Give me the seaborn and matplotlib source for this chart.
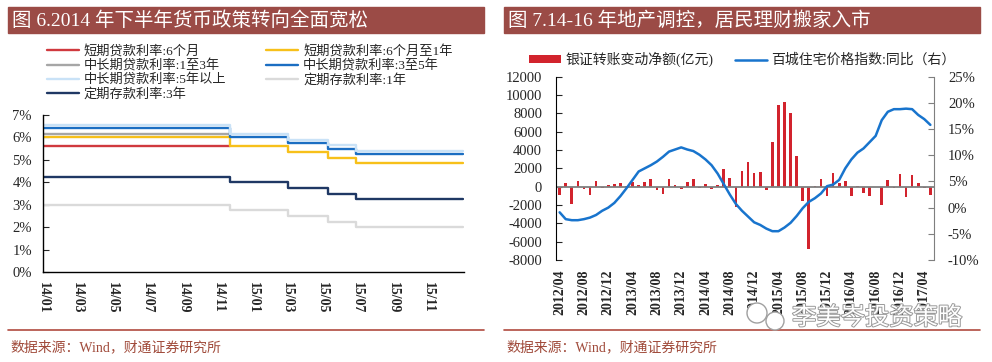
import numpy as np
import pandas as pd
import matplotlib
matplotlib.use("Agg")
import matplotlib.pyplot as plt
import matplotlib.patheffects as pe
from matplotlib.patches import Rectangle, Ellipse
from matplotlib.lines import Line2D
from matplotlib.ticker import FuncFormatter
import seaborn as sns

# ---------------- data: left panel (benchmark rates, %) ----------------
step_dates = ["2014-01-01", "2014-11-22", "2015-03-01", "2015-05-11", "2015-06-28", "2015-12-31"]
loan_6m = [5.60, 5.60, np.nan, np.nan, np.nan, np.nan]
loan_6m_1y = [6.00, 5.60, 5.35, 5.10, 4.85, 4.85]
loan_1_3y = [6.15, 6.15, np.nan, np.nan, np.nan, np.nan]
loan_3_5y = [6.40, 6.00, 5.75, 5.50, 5.25, 5.25]
loan_5y_plus = [6.55, 6.15, 5.90, 5.65, 5.40, 5.40]
deposit_1y = [3.00, 2.75, 2.50, 2.25, 2.00, 2.00]
deposit_3y = [4.25, 4.00, 3.75, 3.50, 3.25, 3.25]

left_names = ["短期贷款利率:6个月", "短期贷款利率:6个月至1年", "中长期贷款利率:1至3年",
              "中长期贷款利率:3至5年", "中长期贷款利率:5年以上", "定期存款利率:1年",
              "定期存款利率:3年"]
left_series = [loan_6m, loan_6m_1y, loan_1_3y, loan_3_5y, loan_5y_plus, deposit_1y, deposit_3y]
left_colors = ["#D0393E", "#F7C01A", "#A6A6A6", "#1B6EC2", "#C9E2F7", "#DADADA", "#1F3864"]
left_ticks = pd.date_range("2014-01-01", "2015-11-01", freq="2MS")

# ---------------- data: right panel ----------------
months = pd.period_range("2012-04", periods=62, freq="M").strftime("%Y/%m")
bank_flow = [-910, 400, -1890, 620, -220, -900, 650, -150, 150, 290,
             360, 100, 510, 180, 470, 800, -400, -760, 800, 180,
             -250, 510, 840, -180, 250, -220, 150, 1890, 980, -2180,
             1710, 2660, 1490, 1640, -330, 4840, 8920, 9210, 8010, 3350,
             -1600, -6800, 50, 800, -980, 1530, 400, 580, -980, 50,
             -730, -1050, -50, -2040, 730, -150, 1420, -1130, 1310, 400,
             -180, -870]
price_yoy = [-0.9, -2.2, -2.4, -2.4, -2.2, -1.9, -1.4, -0.6, 0.0, 0.9,
             2.2, 3.7, 5.3, 6.9, 7.5, 8.1, 8.8, 9.7, 10.7, 11.1,
             11.5, 11.1, 10.8, 10.1, 9.2, 8.1, 6.5, 4.5, 2.5, 0.7,
             -0.6, -1.7, -2.8, -3.3, -4.0, -4.5, -4.5, -3.8, -2.9, -1.6,
             -0.1, 1.1, 1.8, 2.7, 4.1, 4.4, 5.3, 7.5, 9.2, 10.5,
             11.3, 12.5, 13.7, 16.7, 18.3, 18.8, 18.8, 18.9, 18.8, 17.7,
             16.9, 15.8]
right_tick_pos = list(range(0, 62, 4))

sns.set_style("white")
plt.rcParams["font.family"] = ["Liberation Serif", "Noto Sans CJK SC"]
plt.rcParams["axes.unicode_minus"] = False

W, H = 992, 362
fig = plt.figure(figsize=(W / 100, H / 100), dpi=100)


def box(x0, y0, x1, y1):
    return [x0 / W, 1 - y1 / H, (x1 - x0) / W, (y1 - y0) / H]


title_red = "#9B4B46"
foot_red = "#B04A40"

# title bars, footer lines, source notes
for x0, x1, title in [(8, 484, "图 6.2014 年下半年货币政策转向全面宽松"),
                      (504, 980, "图 7.14-16 年地产调控，居民理财搬家入市")]:
    fig.patches.append(Rectangle((x0 / W, 1 - 33 / H), (x1 - x0) / W, 26 / H,
                                 transform=fig.transFigure, color=title_red, zorder=0))
    fig.text((x0 + 4) / W, 1 - 20.5 / H, title, color="white", fontsize=14, va="center")
    fig.add_artist(Line2D([x0 / W, x1 / W], [1 - 330 / H, 1 - 330 / H],
                          color=foot_red, lw=1.2, transform=fig.transFigure))
    fig.text((x0 + 2) / W, 1 - 347 / H, "数据来源：Wind，财通证券研究所",
             color="#A04A3A", fontsize=10, va="center")

# ---------------- left panel ----------------
axl = fig.add_axes(box(43, 115, 464, 272))
dates = pd.to_datetime(step_dates)
for name, vals, c in zip(left_names, left_series, left_colors):
    d = pd.DataFrame({"date": dates, "rate": vals}).dropna()
    sns.lineplot(data=d, x="date", y="rate", color=c, lw=1.7, errorbar=None,
                 drawstyle="steps-post", ax=axl)
axl.set_xlim(pd.Timestamp("2014-01-01"), pd.Timestamp("2016-01-01"))
axl.set_ylim(0, 7)
axl.set_yticks(range(0, 8))
axl.yaxis.set_major_formatter(FuncFormatter(lambda v, p: f"{v:.0f}%"))
axl.set_xticks(left_ticks)
axl.set_xticklabels([d.strftime("%y/%m") for d in left_ticks], rotation=-90,
                    fontweight="bold", fontsize=10)
axl.set_xlabel("")
axl.set_ylabel("")
for s in ["top", "right"]:
    axl.spines[s].set_visible(False)
for s in ["left", "bottom"]:
    axl.spines[s].set_color("black")
    axl.spines[s].set_linewidth(1.0)
axl.tick_params(axis="y", direction="in", length=4, width=0.8, pad=8,
                labelsize=10.5, left=True)
axl.tick_params(axis="x", length=0, pad=7)

order = [0, 2, 4, 6, 1, 3, 5]
lh = axl.lines
fig.legend(handles=[lh[i] for i in order], labels=[left_names[i] for i in order],
           loc="upper left", bbox_to_anchor=(47 / W, 1 - 45 / H), ncol=2,
           frameon=False, fontsize=9.5, handlelength=2.4, handletextpad=0.4,
           labelspacing=0.1, columnspacing=3.0, borderpad=0, borderaxespad=0)

# ---------------- right panel ----------------
axr = fig.add_axes(box(556, 76.7, 934, 260))
df_r = pd.DataFrame({"month": months, "flow": bank_flow, "yoy": price_yoy})
sns.barplot(data=df_r, x="month", y="flow", color="#D2232D", width=0.45,
            saturation=1, linewidth=0, ax=axr)
axr.axhline(0, color="#7F7F7F", lw=1.3, zorder=1)
axr.set_ylim(-8000, 12000)
axr.set_yticks(range(-8000, 12001, 2000))
axr.set_xlim(-0.6, 61.6)
axr.set_xticks(right_tick_pos)
axr.set_xticklabels([months[i] for i in right_tick_pos], rotation=90,
                    fontweight="bold", fontsize=10)
axr.set_xlabel("")
axr.set_ylabel("")
for s in ["top", "right", "bottom"]:
    axr.spines[s].set_visible(False)
axr.spines["left"].set_color("black")
axr.tick_params(axis="y", direction="in", length=4, width=0.8, pad=10,
                labelsize=10.5, left=True)
axr.tick_params(axis="x", length=0, pad=7)

axr2 = axr.twinx()
df_r["pos"] = np.arange(len(df_r))
sns.lineplot(data=df_r, x="pos", y="yoy", color="#1874CD", lw=1.8,
             errorbar=None, ax=axr2)
axr2.set_xlim(-0.6, 61.6)
axr2.set_ylim(-10, 25)
axr2.set_yticks(range(-10, 26, 5))
axr2.yaxis.set_major_formatter(FuncFormatter(lambda v, p: f"{v:.0f}%"))
axr2.set_ylabel("")
for s in ["top", "left", "bottom"]:
    axr2.spines[s].set_visible(False)
axr2.spines["right"].set_color("#7F7F7F")
axr2.tick_params(axis="y", direction="in", length=4, width=0.8, pad=10,
                 labelsize=10.5, right=True, color="#7F7F7F")

fig.legend(handles=[axr.containers[0], axr2.lines[0]],
           labels=["银证转账变动净额(亿元)", "百城住宅价格指数:同比（右）"],
           loc="upper left", bbox_to_anchor=(529 / W, 1 - 52 / H), ncol=2,
           frameon=False, fontsize=10, handlelength=2.3, handleheight=0.45,
           handletextpad=0.3, columnspacing=1.6, borderpad=0, borderaxespad=0)

# watermark
for cx, cy, r in [(757, 313, 10), (775, 321, 9)]:
    fig.patches.append(Ellipse((cx / W, 1 - cy / H), 2 * r / W, 2 * r / H,
                               transform=fig.transFigure, facecolor="white",
                               edgecolor="#A0A0A0", lw=1.0, zorder=5))
fig.text(792 / W, 1 - 318 / H, "李美岑投资策略", fontsize=17.5, color="white",
         va="center", zorder=6,
         path_effects=[pe.withStroke(linewidth=1.4, foreground="#9A9A9A")])

fig.savefig("out.png", dpi=100)
